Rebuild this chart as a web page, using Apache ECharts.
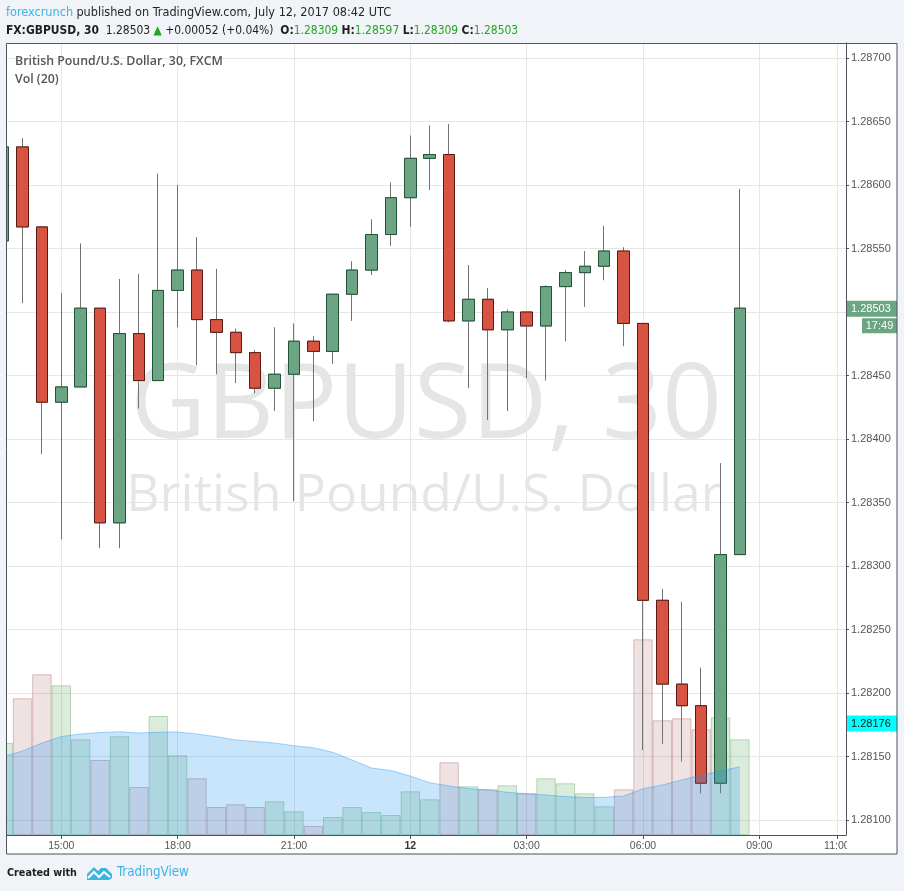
<!DOCTYPE html>
<html><head><meta charset="utf-8">
<script src="https://cdn.jsdelivr.net/npm/echarts@6/dist/echarts.min.js"></script>
<style>html,body{margin:0;padding:0;background:#f0f3f7;}#c{width:904px;height:891px;}</style>
</head><body><div id="c"></div>
<script>
// ---- categories (30-minute slots, 11 Jul 13:30 -> 12 Jul 11:00) ----
const times = ['13:30','14:00','14:30','15:00','15:30','16:00','16:30','17:00','17:30','18:00',
  '18:30','19:00','19:30','20:00','20:30','21:00','21:30','22:00','22:30','23:00','23:30',
  '00:00','00:30','01:00','01:30','02:00','02:30','03:00','03:30','04:00','04:30','05:00','05:30',
  '06:00','06:30','07:00','07:30','08:00','08:30','09:00','09:30','10:00','10:30','11:00'];
// ---- OHLC ----
const openP  = [1.28556,1.28630,1.28567,1.28429,1.28441,1.28503,1.28334,1.28483,1.28446,1.28517,
  1.28533,1.28494,1.28484,1.28468,1.28440,1.28451,1.28477,1.28469,1.28514,1.28533,1.28561,
  1.28590,1.28621,1.28624,1.28493,1.28510,1.28486,1.28500,1.28489,1.28520,1.28531,1.28536,1.28548,
  1.28491,1.28273,1.28207,1.28190,1.28129,1.28309];
const closeP = [1.28630,1.28567,1.28429,1.28441,1.28503,1.28334,1.28483,1.28446,1.28517,1.28533,
  1.28494,1.28484,1.28468,1.28440,1.28451,1.28477,1.28469,1.28514,1.28533,1.28561,1.28590,
  1.28621,1.28624,1.28493,1.28510,1.28486,1.28500,1.28489,1.28520,1.28531,1.28536,1.28548,1.28491,
  1.28273,1.28207,1.28190,1.28129,1.28309,1.28503];
const lowP   = [1.28545,1.28507,1.28388,1.28321,1.28441,1.28314,1.28314,1.28424,1.28446,1.28488,
  1.28458,1.28451,1.28444,1.28436,1.28422,1.28351,1.28414,1.28459,1.28493,1.28529,1.28552,
  1.28567,1.28596,1.28492,1.28440,1.28415,1.28422,1.28448,1.28446,1.28477,1.28504,1.28525,1.28473,
  1.28155,1.28160,1.28146,1.28121,1.28121,1.28309];
const highP  = [1.28640,1.28637,1.28567,1.28515,1.28554,1.28503,1.28526,1.28530,1.28609,1.28600,
  1.28559,1.28534,1.28487,1.28470,1.28488,1.28491,1.28481,1.28514,1.28540,1.28573,1.28602,
  1.28639,1.28647,1.28648,1.28537,1.28519,1.28502,1.28500,1.28521,1.28533,1.28548,1.28568,1.28551,
  1.28491,1.28282,1.28272,1.28220,1.28381,1.28597];
// ---- volume and its 20-period average ----
const volume = [920,1367,1607,1497,957,750,987,480,1190,797,567,280,307,280,337,237,90,180,280,230,200,
  437,357,727,487,457,497,417,567,517,417,287,457,1957,1147,1167,1057,1177,957];
const volumeMA = [785,840,920,985,1010,1025,1033,1020,1027,1030,1010,983,950,935,920,893,873,827,750,670,645,
  590,523,490,465,450,427,413,400,385,375,377,390,463,500,550,600,640,683];
// ---- axis ticks ----
const tickTimes  = ['15:00','18:00','21:00','00:00','03:00','06:00','09:00','11:00'];
const tickLabels = ['15:00','18:00','21:00','12','03:00','06:00','09:00','11:00'];
const priceMin = 1.281, priceMax = 1.287, priceStep = 0.0005;
const lastPrice = 1.28503, countdown = '17:49', hLinePrice = 1.28176;
const header1a = 'forexcrunch', header1b = 'published on TradingView.com, July 12, 2017 08:42 UTC';
const symbolLine = 'British Pound/U.S. Dollar, 30, FXCM';

// ---- font helpers ----
const cv = document.createElement('canvas').getContext('2d');
const probe = 'abcdefghijklmnopqrstuvwxyz0123456789ABCDEF';
function has(f){ cv.font='40px monospace'; const a=cv.measureText(probe).width; cv.font='40px "'+f+'", monospace'; return Math.abs(cv.measureText(probe).width-a)>0.5; }
const NARROW = ['Liberation Sans Narrow','DejaVu Sans Condensed','Lato'].find(has) || 'Lato';
function tw(t, size, weight, fam){ cv.font = weight+' '+size+'px "'+fam+'"'; return cv.measureText(t).width; }
function fit(parts, fam, target){ const w = parts.reduce((s,p)=>s+tw(p[0],100,p[1],fam),0); return 100*target/w; }

const tickIdx = tickTimes.map(t => times.indexOf(t));
const candleData = openP.map((o,i)=>[i, o, closeP[i], lowP[i], highP[i]]);
const bodyData = openP.map((o,i)=>[i, o, closeP[i], Math.min(o,closeP[i]), Math.max(o,closeP[i])]);
const volData = volume.map((v,i)=>({value:[i,v], itemStyle: closeP[i]>=openP[i]
  ? {color:'rgba(60,150,60,0.18)', borderColor:'rgba(60,150,60,0.32)', borderWidth:1}
  : {color:'rgba(150,60,60,0.15)', borderColor:'rgba(150,60,60,0.3)', borderWidth:1}}));
const maData = volumeMA.map((v,i)=>[i,v]);

const X0 = 0.148, X1 = 43.471;
const GL = 6, GR = 58;

const h1Size = fit([[header1a+' '+header1b,'500']], NARROW, 386);
const l2parts = [['FX:GBPUSD, 30','bold'],['  1.28503 ','normal'],['▲','normal'],[' +0.00052 (+0.04%)  ','normal'],
  ['O:','bold'],['1.28309 ','normal'],['H:','bold'],['1.28597 ','normal'],['L:','bold'],['1.28309 ','normal'],['C:','bold'],['1.28503','normal']];
const h2Size = fit(l2parts, NARROW, 513);
const legSize = fit([[symbolLine,'600']], 'Open Sans', 208);
const wm1Size = fit([['GBPUSD, 30','normal']], 'Open Sans', 592);
const wm2Size = fit([['British Pound/U.S. Dollar','normal']], 'Open Sans', 596);
const ftSize = fit([['Created with','600']], NARROW, 70);
const ft2Size = fit([['TradingView','normal']], NARROW, 72);

const l2style = (w,c)=>({fontFamily:NARROW, fontSize:h2Size, fontWeight:w, fill:c, color:c});
const l2names = ['b','n','g','n','b','v','b','v','b','v','b','v'];
const l2rich = {b:l2style('bold','#1e1e1e'), n:l2style('normal','#1e1e1e'), g:l2style('normal','#22a722'), v:l2style('normal','#22a722')};
const l2text = l2parts.map((p,k)=>'{'+l2names[k]+'|'+p[0]+'}').join('');

const chart = echarts.init(document.getElementById('c'), null, {renderer:'canvas'});
const baseGraphic = [
  {type:'rect', z:-10, shape:{x:6,y:43,width:891,height:811}, style:{fill:'#ffffff'}},
  {type:'text', z:-9, x:426, y:408, style:{text:'GBPUSD, 30', fontFamily:'Open Sans', fontSize:wm1Size, fill:'rgba(0,0,0,0.1)', align:'center', verticalAlign:'middle'}},
  {type:'text', z:-9, x:424, y:496, style:{text:'British Pound/U.S. Dollar', fontFamily:'Open Sans', fontSize:wm2Size, fill:'rgba(0,0,0,0.1)', align:'center', verticalAlign:'middle'}},
  {type:'text', z:20, x:15, y:61, style:{text:symbolLine, fontFamily:'Open Sans', fontWeight:600, fontSize:legSize, fill:'#555', verticalAlign:'middle'}},
  {type:'text', z:20, x:15, y:79, style:{text:'Vol (20)', fontFamily:'Open Sans', fontWeight:600, fontSize:legSize, fill:'#555', verticalAlign:'middle'}},
  {type:'text', z:20, x:6, y:12.5, style:{text:'{a|'+header1a+'} {b|'+header1b+'}', verticalAlign:'middle',
    rich:{a:{fontFamily:NARROW, fontSize:h1Size, fontWeight:500, fill:'#3cb4e6', color:'#3cb4e6'}, b:{fontFamily:NARROW, fontSize:h1Size, fontWeight:500, fill:'#262626', color:'#262626'}}}},
  {type:'text', z:20, x:6, y:31, style:{text:l2text, verticalAlign:'middle', rich:l2rich}},
  {type:'text', z:20, x:7, y:873, style:{text:'Created with', fontFamily:NARROW, fontWeight:600, fontSize:ftSize, fill:'#1e1e1e', verticalAlign:'middle'}},
  {type:'polygon', z:20, x:87, y:866, shape:{points:[[0,14],[0,8],[3,5],[7,1],[11,5],[14,2],[19,2],[22,5],[25,8],[25,12],[22,14]]}, style:{fill:'#3cb4e6'}},
  {type:'polyline', z:21, x:87, y:866, shape:{points:[[1,12],[7,6],[12,11],[17,6],[23,11]]}, style:{stroke:'#ffffff', lineWidth:2, fill:null}},
  {type:'text', z:20, x:117, y:873, style:{text:'TradingView', fontFamily:NARROW, fontSize:ft2Size, fill:'#3cb4e6', verticalAlign:'middle'}},
  {type:'rect', z:40, shape:{x:847,y:836,width:49.5,height:17}, style:{fill:'#ffffff'}},
  {type:'rect', z:49, shape:{x:0,y:43,width:6.5,height:812}, style:{fill:'#f0f3f7'}},
  {type:'rect', z:50, shape:{x:6.5,y:43.5,width:890.5,height:810.5}, style:{fill:null, stroke:'#50535e', lineWidth:1}}
];

const option = {
  animation:false,
  backgroundColor:'#f0f3f7',
  grid:[
    {left:GL, right:GR, top:58, bottom:71},
    {left:GL, right:GR, top:43, bottom:56}
  ],
  xAxis:[
    {type:'value', gridIndex:0, min:X0, max:X1, show:false},
    {type:'value', gridIndex:1, min:X0, max:X1, position:'bottom',
      axisLine:{show:true, lineStyle:{color:'#50535e', width:1}},
      axisTick:{show:true, customValues:tickIdx, length:4, lineStyle:{color:'#50535e'}},
      axisLabel:{show:true, customValues:tickIdx, margin:6, color:'#555', fontSize:10.5, fontFamily:'Liberation Sans',
        formatter:(v)=>{const k=tickIdx.indexOf(Math.round(v)); const s=k>=0?tickLabels[k]:''; return s==='12'?'{d|12}':s;},
        rich:{d:{fontWeight:'bold', color:'#333', fontSize:10.5, fontFamily:'Liberation Sans'}}},
      splitLine:{show:true, lineStyle:{color:'#e6e6e6', width:1}}
    }
  ],
  yAxis:[
    {type:'value', gridIndex:0, position:'right', min:priceMin, max:priceMax, interval:priceStep,
      axisLine:{show:false}, axisTick:{show:true, length:3, lineStyle:{color:'#50535e'}},
      axisLabel:{margin:5, color:'#555', fontSize:11, fontFamily:'Liberation Sans', formatter:v=>v.toFixed(5)},
      splitLine:{show:true, lineStyle:{color:'#e6e6e6', width:1}}},
    {type:'value', gridIndex:1, position:'right', min:0, max:7920,
      axisLine:{show:true, lineStyle:{color:'#50535e', width:1}}, axisTick:{show:false}, axisLabel:{show:false}, splitLine:{show:false}}
  ],
  series:[
    {type:'bar', xAxisIndex:1, yAxisIndex:1, data:volData, barWidth:19.4, silent:true},
    {type:'line', xAxisIndex:1, yAxisIndex:1, data:maData, symbol:'none', lineStyle:{color:'rgba(33,150,243,0.4)', width:1},
      areaStyle:{color:'rgba(33,150,243,0.35)'}, silent:true},
    {type:'candlestick', xAxisIndex:0, yAxisIndex:0, dimensions:['t','open','close','lowest','highest'],
      encode:{x:0, y:[1,2,3,4]}, data:candleData, barWidth:12,
      itemStyle:{color:'#6ba583', color0:'#d75442', borderColor:'#737375', borderColor0:'#737375', borderWidth:1}},
    {type:'candlestick', xAxisIndex:0, yAxisIndex:0, dimensions:['t','open','close','lowest','highest'],
      encode:{x:0, y:[1,2,3,4]}, data:bodyData, barWidth:12,
      itemStyle:{color:'#6ba583', color0:'#d75442', borderColor:'#225437', borderColor0:'#5b1a13', borderWidth:1},
      markLine:{silent:true, symbol:['none','none'], data:[{yAxis:hLinePrice}], label:{show:false},
        lineStyle:{color:'#00ffff', width:3, type:'solid'}}}
  ],
  graphic: baseGraphic
};
chart.setOption(option);

const pyLast = chart.convertToPixel({yAxisIndex:0}, lastPrice);
const pyH = chart.convertToPixel({yAxisIndex:0}, hLinePrice);
const markers = [
  {type:'rect', z:45, shape:{x:847, y:pyLast-7.5, width:50, height:16}, style:{fill:'#6ba583'}},
  {type:'text', z:46, x:851, y:pyLast+0.5, style:{text:lastPrice.toFixed(5), fontFamily:'Liberation Sans', fontSize:11, fill:'#ffffff', verticalAlign:'middle'}},
  {type:'rect', z:45, shape:{x:862, y:pyLast+10, width:35, height:15}, style:{fill:'#6ba583'}},
  {type:'text', z:46, x:879.5, y:pyLast+17.5, style:{text:countdown, fontFamily:'Liberation Sans', fontSize:11, fill:'#ffffff', align:'center', verticalAlign:'middle'}},
  {type:'rect', z:45, shape:{x:847, y:pyH-8, width:50, height:16}, style:{fill:'#00ffff'}},
  {type:'text', z:46, x:851, y:pyH, style:{text:hLinePrice.toFixed(5), fontFamily:'Liberation Sans', fontSize:11, fill:'#1a1a1a', verticalAlign:'middle'}}
];
chart.setOption({graphic: baseGraphic.concat(markers)}, {replaceMerge:['graphic']});
</script></body></html>
